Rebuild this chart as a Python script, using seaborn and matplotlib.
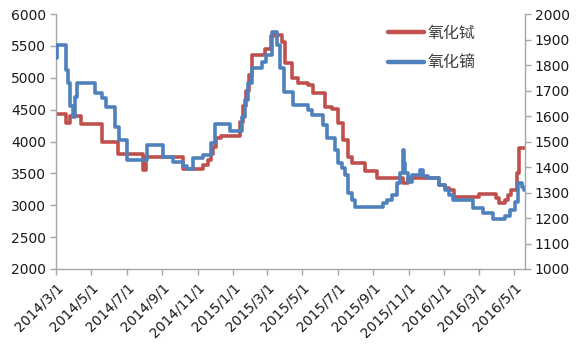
import matplotlib
matplotlib.use("Agg")
import matplotlib.pyplot as plt
import pandas as pd
import seaborn as sns

# Terbium oxide price (left axis) - change points of the daily series
tb_dates = [
    "2014-03-01", "2014-03-18", "2014-03-25", "2014-04-14", "2014-05-19",
    "2014-06-16", "2014-07-29", "2014-08-04", "2014-10-07", "2014-11-10",
    "2014-11-19", "2014-11-24", "2014-11-27", "2014-12-03", "2014-12-11",
    "2015-01-13", "2015-01-18", "2015-01-23", "2015-01-29", "2015-02-03",
    "2015-02-25", "2015-03-08", "2015-03-13", "2015-03-18", "2015-03-27",
    "2015-04-01", "2015-04-13", "2015-04-23", "2015-05-11", "2015-05-19",
    "2015-06-09", "2015-06-21", "2015-07-02", "2015-07-10", "2015-07-19",
    "2015-07-26", "2015-08-17", "2015-09-07", "2015-10-22", "2015-10-31",
    "2015-12-24", "2016-01-02", "2016-01-10", "2016-01-19", "2016-03-01",
    "2016-03-31", "2016-04-05", "2016-04-15", "2016-04-21", "2016-04-26",
    "2016-05-06", "2016-05-10", "2016-05-20",
]
tb_values = [
    4430, 4290, 4400, 4280, 4000,
    3800, 3560, 3750, 3570, 3630,
    3710, 3800, 3920, 4050, 4085,
    4300, 4550, 4800, 5050, 5350,
    5450, 5650, 5690, 5670, 5560,
    5235, 5000, 4925, 4885, 4755,
    4545, 4505, 4285, 4025, 3760,
    3655, 3545, 3420, 3350, 3430,
    3320, 3266, 3240, 3134, 3180,
    3110, 3030, 3090, 3160, 3240,
    3500, 3900, 3900,
]

# Dysprosium oxide price (right axis) - change points of the daily series
dy_dates = [
    "2014-03-01", "2014-03-03", "2014-03-18", "2014-03-22", "2014-03-25",
    "2014-03-30", "2014-04-03", "2014-04-07", "2014-05-07", "2014-05-19",
    "2014-05-26", "2014-06-11", "2014-06-18", "2014-07-01", "2014-08-05",
    "2014-09-02", "2014-09-20", "2014-10-06", "2014-10-14", "2014-10-24",
    "2014-11-10", "2014-11-24", "2014-12-01", "2014-12-27", "2015-01-17",
    "2015-01-22", "2015-01-27", "2015-02-03", "2015-02-20", "2015-02-27",
    "2015-03-09", "2015-03-18", "2015-03-23", "2015-03-30", "2015-04-15",
    "2015-05-11", "2015-05-18", "2015-06-06", "2015-06-13", "2015-06-26",
    "2015-07-02", "2015-07-08", "2015-07-14", "2015-07-19", "2015-07-26",
    "2015-07-31", "2015-09-17", "2015-09-24", "2015-10-03", "2015-10-12",
    "2015-10-17", "2015-10-22", "2015-10-24", "2015-10-26", "2015-10-31",
    "2015-11-07", "2015-11-20", "2015-11-26", "2015-12-04", "2015-12-24",
    "2016-01-02", "2016-01-10", "2016-01-17", "2016-02-20", "2016-03-08",
    "2016-03-26", "2016-04-15", "2016-04-24", "2016-05-03", "2016-05-08",
    "2016-05-15", "2016-05-18", "2016-05-20",
]
dy_values = [
    1826, 1878, 1780, 1728, 1639,
    1595, 1676, 1728, 1689, 1669,
    1637, 1558, 1506, 1427, 1488,
    1440, 1418, 1404, 1391, 1434,
    1447, 1493, 1570, 1542, 1597,
    1663, 1728, 1790, 1813, 1839,
    1931, 1878, 1787, 1695, 1643,
    1624, 1604, 1565, 1513, 1467,
    1414, 1395, 1369, 1297, 1271,
    1242, 1260, 1271, 1290, 1336,
    1375, 1467, 1414, 1375, 1342,
    1369, 1388, 1365, 1356, 1329,
    1310, 1290, 1271, 1238, 1218,
    1195, 1208, 1231, 1264, 1336,
    1323, 1310, 1310,
]

tb_label = "氧化铽"
dy_label = "氧化镝"

left_ticks = [2000, 2500, 3000, 3500, 4000, 4500, 5000, 5500, 6000]
right_ticks = [1000, 1100, 1200, 1300, 1400, 1500, 1600, 1700, 1800, 1900, 2000]
x_ticks = pd.date_range("2014-03-01", "2016-05-01", freq="2MS")

tb = pd.DataFrame({"date": pd.to_datetime(tb_dates), "price": tb_values})
dy = pd.DataFrame({"date": pd.to_datetime(dy_dates), "price": dy_values})

sns.set_theme(style="white")
plt.rcParams["font.family"] = ["DejaVu Sans"]

red = "#C0504D"
blue = "#4F81BD"
axis_grey = "#A6A6A6"
text_col = "#1A1A1A"

fig = plt.figure(figsize=(5.81, 3.47), dpi=100)
ax = fig.add_axes([56 / 581, 78 / 347, (525 - 56) / 581, (269 - 14) / 347])
ax2 = ax.twinx()

sns.lineplot(data=tb, x="date", y="price", ax=ax, color=red, linewidth=2.6,
             drawstyle="steps-post", estimator=None, label=tb_label, legend=False)
sns.lineplot(data=dy, x="date", y="price", ax=ax2, color=blue, linewidth=2.6,
             drawstyle="steps-post", estimator=None, label=dy_label, legend=False)

ax.set_xlim(pd.Timestamp("2014-03-01"), pd.Timestamp("2016-05-20"))
ax.set_ylim(2000, 6000)
ax2.set_ylim(1000, 2000)
ax.set_yticks(left_ticks)
ax2.set_yticks(right_ticks)
ax.set_xticks(x_ticks)
ax.set_xticklabels([f"{d.year}/{d.month}/{d.day}" for d in x_ticks],
                   rotation=45, ha="right", va="top", rotation_mode="anchor")
ax.set_xlabel("")
ax.set_ylabel("")
ax2.set_ylabel("")

for a in (ax, ax2):
    a.grid(False)
    a.spines["top"].set_visible(False)
    for s in ("left", "right", "bottom"):
        a.spines[s].set_color(axis_grey)
        a.spines[s].set_linewidth(1.0)
ax.spines["right"].set_visible(False)
ax2.spines["left"].set_visible(False)
ax2.spines["bottom"].set_visible(False)

ax.tick_params(axis="both", which="both", direction="out", length=4, width=1,
               color=axis_grey, labelsize=10, labelcolor=text_col, pad=3)
ax.tick_params(axis="x", pad=4, bottom=True)
ax.tick_params(axis="y", left=True)
ax2.tick_params(axis="y", direction="out", length=4, width=1, color=axis_grey,
                labelsize=10, labelcolor=text_col, pad=3, right=True)

h1, l1 = ax.get_legend_handles_labels()
h2, l2 = ax2.get_legend_handles_labels()
leg = ax2.legend(h1 + h2, l1 + l2, loc="upper right", bbox_to_anchor=(0.925, 1.015),
                 frameon=False, handlelength=2.3, handletextpad=0.2, labelspacing=0.8,
                 prop={"family": ["Noto Sans CJK SC", "DejaVu Sans"], "size": 11.5})
for t in leg.get_texts():
    t.set_color("#404040")
for line in leg.get_lines():
    line.set_linewidth(3.2)

fig.savefig("out.png", dpi=100)
